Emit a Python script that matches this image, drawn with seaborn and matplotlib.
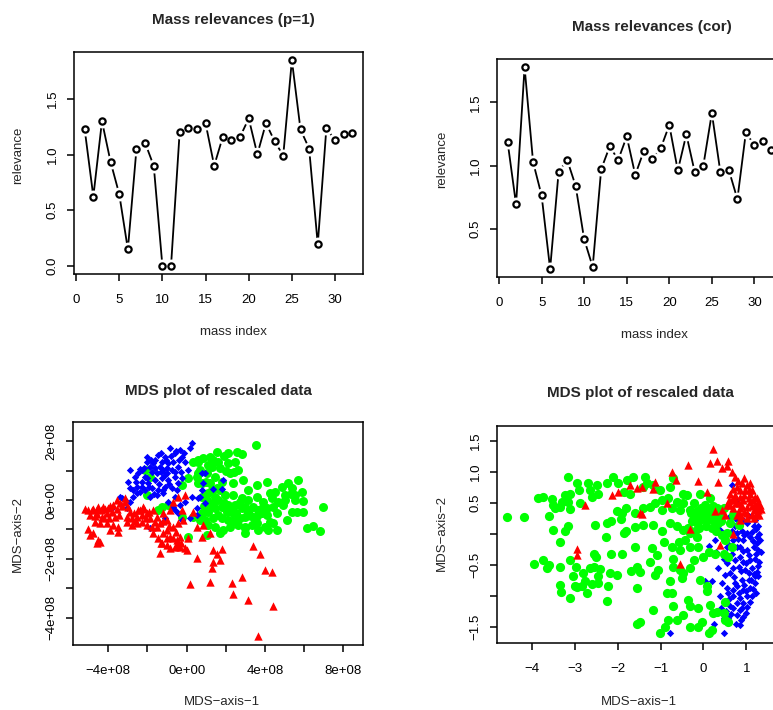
import numpy as np
import pandas as pd
import matplotlib
matplotlib.use("Agg")
import matplotlib.pyplot as plt
import seaborn as sns

# ------------------------------------------------------------
# data
# ------------------------------------------------------------
mass_index = list(range(1, 33))

rel_p1 = [1.226, 0.623, 1.300, 0.934, 0.645, 0.148, 1.054, 1.105, 0.898, 0.0,
          0.0, 1.202, 1.238, 1.229, 1.283, 0.900, 1.160, 1.127, 1.160, 1.325,
          1.003, 1.283, 1.120, 0.991, 1.849, 1.226, 1.054, 0.193, 1.241, 1.127,
          1.184, 1.193]

rel_cor = [1.191, 0.693, 1.780, 1.028, 0.764, 0.183, 0.951, 1.046, 0.840, 0.418,
           0.199, 0.972, 1.152, 1.046, 1.231, 0.927, 1.115, 1.051, 1.139, 1.321,
           0.962, 1.247, 0.946, 1.001, 1.416, 0.949, 0.964, 0.735, 1.265, 1.160,
           1.199, 1.120]

# MDS of rescaled data, panel 1 (units of 1e8)
mds1_red = [(-5.19, -0.32), (-5.02, -0.34), (-4.76, -0.32), (-4.51, -0.25), (-4.25, -0.23),
            (-4.0, -0.28), (-3.74, -0.17), (-3.57, 0.0), (-3.40, -0.11), (-3.15, -0.06),
            (-4.93, -0.51), (-4.59, -0.48), (-4.34, -0.57), (-4.08, -0.45), (-3.83, -0.40),
            (-3.66, -0.57), (-4.42, -0.79), (-4.68, -0.74), (-4.08, -0.79), (-3.74, -0.85),
            (-3.49, -0.91), (-5.02, -1.0), (-4.76, -1.13), (-4.51, -1.36), (-4.59, -1.47),
            (-4.42, -1.42), (-4.93, -1.19), (-3.49, -1.08), (-3.91, -1.02), (-3.15, 0.06),
            (-2.98, -0.23), (-3.06, -0.57), (-2.81, -0.62), (-2.55, -0.57), (-2.38, -0.34),
            (-2.21, -0.23), (-2.04, -0.45), (-1.87, -0.62), (-1.70, -0.34), (-1.53, -0.57),
            (-1.36, -0.79), (-1.19, -0.45), (-1.02, -0.68), (-3.06, -0.74), (-2.81, -0.85),
            (-2.55, -0.79), (-2.30, -0.74), (-2.04, -0.85), (-1.79, -0.91), (-1.53, -0.91),
            (-1.19, -1.13), (-1.02, -1.02), (-0.85, -1.25), (-0.68, -1.30), (-0.51, -1.36),
            (-0.34, -1.25), (-1.70, -1.13), (-1.45, -1.30), (-1.28, -1.47), (-1.02, -1.53),
            (-0.85, -1.64), (-0.60, -1.59), (-0.34, -1.59), (-0.09, -1.64), (0.0, -1.70),
            (-1.36, -1.81), (-0.68, -0.91), (-0.43, -0.79), (-0.17, -0.68), (-0.26, -0.34),
            (-0.09, 0.17), (-0.68, -0.06), (-0.43, 0.11), (-0.85, -0.34), (0.34, -0.40),
            (0.51, -0.91), (0.77, -1.25), (1.19, -1.13), (0.09, -1.30), (0.85, -0.85),
            (-1.33, -1.47), (-0.51, -1.53), (0.51, -1.98), (1.36, -1.70), (1.79, -1.68),
            (1.53, -1.84), (1.36, -2.10), (1.70, -2.04), (1.28, -2.32), (0.17, -2.86),
            (1.19, -2.78), (2.30, -2.81), (2.81, -2.63), (2.38, -3.20), (3.15, -3.40),
            (3.40, -1.55), (3.74, -1.84), (4.0, -2.38), (4.37, -2.44), (4.39, -3.59),
            (3.62, -4.63), (-4.85, -0.35), (-4.60, -0.30), (-4.35, -0.35), (-4.15, -0.30),
            (-3.90, -0.20), (-3.55, -0.30), (-3.30, -0.20), (-4.70, -0.55), (-4.20, -0.60),
            (-3.95, -0.62), (-3.45, -0.50), (-2.90, -0.40), (-2.70, -0.45), (-2.50, -0.35),
            (-2.30, -0.50), (-2.10, -0.62), (-1.90, -0.40), (-1.60, -0.75), (-1.20, -0.70),
            (-0.90, -0.90), (-0.55, -1.10), (-1.00, -1.30), (-0.30, -1.45), (-2.65, -0.70),
            (-2.20, -0.30)]

mds1_blue = [(0.26, 1.93), (0.17, 1.76), (-0.34, 1.70), (-0.85, 1.76), (-0.60, 1.59),
             (-1.11, 1.47), (-1.45, 1.53), (-1.62, 1.36), (-2.04, 1.30), (-1.87, 1.13),
             (-1.28, 1.30), (-0.94, 1.25), (-0.68, 1.30), (-0.26, 1.47), (-0.09, 1.30),
             (-0.43, 1.13), (-0.77, 1.02), (-1.19, 1.02), (-1.53, 0.91), (-1.79, 0.96),
             (-2.13, 0.79), (-2.47, 0.91), (-2.64, 0.79), (-2.89, 1.02), (-2.30, 0.62),
             (-1.96, 0.57), (-1.62, 0.68), (-1.28, 0.74), (-0.94, 0.68), (-0.60, 0.79),
             (-0.43, 0.57), (-0.77, 0.40), (-1.11, 0.45), (-1.45, 0.34), (-1.79, 0.40),
             (-2.13, 0.34), (-2.38, 0.28), (-2.72, 0.34), (-2.98, 0.62), (-2.89, 0.40),
             (-3.32, 0.06), (-3.15, 0.0), (-2.89, -0.06), (-2.72, 0.11), (-2.55, 0.23),
             (-3.40, 0.11), (-3.83, -0.28), (-3.06, -0.28), (-1.87, 0.11), (-1.53, 0.17),
             (-1.19, 0.23), (-0.60, 0.11), (-1.11, -0.62), (-0.60, -0.34), (-0.43, -0.45),
             (-0.26, -0.68), (0.17, -0.62), (-0.09, -0.06), (0.26, 0.11), (0.60, 0.06),
             (-1.87, -0.96), (-1.28, -0.79), (-0.68, -0.23), (-0.94, -0.06), (-0.34, -0.17),
             (-2.30, 1.02), (-1.36, 1.13), (-1.70, 1.25), (-1.02, 0.91), (-0.60, 0.96),
             (-0.26, 0.74), (0.09, 1.02), (0.77, 0.91), (0.94, 0.93), (0.85, 0.57),
             (0.77, 0.34), (1.36, 0.36), (1.87, 0.68), (1.79, 0.36), (0.94, -0.11),
             (0.51, -0.28), (0.51, -0.51), (0.68, 0.11), (-2.00, 1.45), (-1.30, 1.60),
             (-0.80, 1.50), (-0.40, 1.35), (-1.00, 1.10), (-1.60, 1.10), (-2.20, 1.10),
             (-2.60, 0.60), (-2.00, 0.75), (-1.40, 0.55), (-0.90, 0.55), (-0.50, 0.35),
             (-1.20, 0.35), (-1.65, 0.20), (-2.30, 0.45), (-2.55, 0.45), (-1.10, 0.85),
             (-0.30, 0.95), (-1.90, 0.45), (-1.30, 0.95), (-0.15, 1.60), (-0.55, 1.65),
             (-1.05, 1.35), (-1.80, 1.35), (-2.40, 1.05)]

mds1_green = [(3.52, 1.87), (2.55, 1.64), (2.81, 1.56), (2.13, 1.59), (1.53, 1.64),
              (1.19, 1.47), (0.85, 1.42), (0.60, 1.30), (1.62, 1.30), (2.13, 1.25),
              (2.47, 1.30), (2.64, 1.02), (2.21, 0.91), (1.70, 1.08), (1.28, 1.13),
              (1.02, 0.91), (0.60, 0.91), (1.45, 0.79), (1.19, 0.57), (1.53, 0.40),
              (0.60, 0.57), (1.11, 0.23), (1.45, 0.11), (1.96, 0.17), (2.38, 0.17),
              (2.81, 0.06), (3.15, 0.0), (3.57, 0.11), (3.91, -0.06), (4.25, 0.23),
              (4.51, 0.28), (4.85, 0.45), (5.19, 0.57), (5.70, 0.68), (5.36, 0.40),
              (5.02, 0.17), (5.53, 0.17), (5.87, 0.28), (5.95, -0.02), (5.53, 0.0),
              (4.93, -0.17), (4.42, -0.23), (4.08, -0.28), (3.66, -0.34), (3.15, -0.40),
              (2.81, -0.28), (2.47, -0.17), (2.13, -0.17), (1.79, -0.23), (1.45, -0.28),
              (1.11, -0.40), (0.77, -0.45), (0.94, -0.68), (1.36, -0.62), (1.79, -0.62),
              (2.13, -0.68), (2.55, -0.68), (2.98, -0.57), (3.49, -0.68), (3.83, -0.45),
              (4.25, -0.74), (4.0, -0.91), (3.66, -1.02), (3.32, -0.85), (2.98, -0.91),
              (2.64, -0.85), (2.21, -0.91), (1.87, -1.02), (1.45, -0.91), (1.11, -0.85),
              (1.70, -1.13), (2.98, -1.13), (4.17, -1.02), (4.59, -1.02), (5.10, -0.68),
              (5.36, -0.40), (5.61, -0.40), (5.95, -0.40), (6.12, -0.96), (6.46, -0.88),
              (6.80, -1.04), (6.97, -0.23), (2.89, 0.68), (3.57, 0.51), (4.08, 0.62),
              (3.15, 0.34), (4.34, 0.06), (4.68, -0.06), (0.34, 1.30), (0.60, 1.36),
              (0.51, 0.79), (0.77, 0.57), (0.09, 0.74), (-0.26, 0.51), (-2.13, 1.02),
              (-2.04, 0.17), (-1.28, -0.23), (-1.45, -0.34), (-0.94, -0.17), (0.09, -1.25),
              (0.34, -0.57), (0.68, -0.68), (-1.87, 0.79), (-0.26, -0.57), (1.02, -1.19),
              (1.36, -0.11), (2.38, -0.45), (3.40, -0.23), (2.04, -0.40), (2.72, -0.06),
              (1.02, 0.0), (1.70, 0.34), (2.38, 0.57), (0.68, 1.02), (1.36, 1.36),
              (1.00, 0.60), (1.30, 0.35), (1.60, 0.00), (1.90, -0.10), (2.20, -0.30),
              (2.50, -0.45), (2.70, -0.60), (3.00, -0.25), (3.30, -0.55), (3.60, -0.55),
              (3.90, -0.25), (4.10, -0.50), (4.60, -0.45), (5.00, 0.00), (5.30, 0.20),
              (1.20, -0.20), (0.90, -0.20), (0.80, 0.10), (1.80, 0.60), (2.00, 1.00),
              (1.10, 1.20), (1.90, 1.50), (2.40, 0.95), (3.00, -0.95), (2.30, -0.70),
              (1.60, -0.50), (3.60, -0.80), (4.40, -0.80)]

# MDS of rescaled data, panel 2
mds2_blue = [(0.66, 0.79), (0.78, 0.55), (0.62, 0.28), (0.31, 0.09), (0.27, -0.10),
             (0.39, 0.06), (0.12, -0.20), (0.54, -0.21), (0.66, -0.32), (0.78, -0.21),
             (0.47, -0.40), (0.54, -0.48), (0.19, -0.77), (0.04, -0.77), (0.43, -0.80),
             (0.50, -0.67), (0.62, -0.64), (0.74, -0.80), (0.39, -1.01), (0.58, -0.96),
             (0.50, -1.12), (0.62, -1.17), (0.47, -1.36), (0.58, -1.36), (0.85, -1.47),
             (-0.78, -1.61), (0.47, -1.61), (0.85, 0.12), (1.01, 0.17), (1.17, 0.12),
             (1.24, -0.05), (1.09, -0.05), (0.93, -0.10), (0.85, -0.21), (1.01, -0.26),
             (1.17, -0.21), (1.28, -0.26), (1.20, -0.40), (1.09, -0.42), (0.93, -0.45),
             (0.82, -0.53), (0.97, -0.58), (1.13, -0.56), (1.24, -0.61), (1.20, -0.69),
             (1.05, -0.75), (0.89, -0.75), (0.78, -0.85), (0.93, -0.91), (1.09, -0.88),
             (1.20, -0.80), (1.01, -1.01), (0.85, -1.04), (0.78, -1.12), (0.93, -1.12),
             (1.13, -1.01), (0.85, -1.23), (0.78, -1.31), (0.70, -1.01), (1.01, 0.01),
             (0.78, 0.01), (0.74, -0.42), (0.85, -0.37), (1.28, 0.12), (1.32, -0.10),
             (0.70, -0.10), (0.93, 0.22), (1.05, 0.28), (1.20, 0.22), (0.78, 0.22),
             (0.70, -0.91), (1.28, -0.69), (0.66, 0.05), (0.74, 0.12), (0.90, 0.05),
             (1.12, 0.03), (1.22, 0.08), (0.95, -0.02), (0.80, -0.08), (1.15, -0.12),
             (1.25, -0.15), (0.92, -0.28), (1.05, -0.35), (1.22, -0.33), (1.30, -0.45),
             (0.98, -0.48), (0.88, -0.60), (1.05, -0.63), (1.18, -0.65), (0.72, -0.70),
             (0.95, -0.82), (1.15, -0.90), (1.00, -0.93), (0.82, -0.95), (1.22, -0.95),
             (0.90, -1.20), (0.98, -1.28), (0.70, -1.20), (0.65, -1.30), (0.75, -1.45),
             (0.92, -1.35), (1.02, -1.18), (0.60, -1.05), (0.55, -0.88), (0.68, -0.55),
             (0.60, -0.18), (1.10, -0.75), (1.27, -0.52), (1.33, -0.30), (1.30, 0.00),
             (0.88, -1.40), (1.08, -1.10), (0.35, -0.55), (0.30, -0.30), (0.42, -1.20),
             (0.25, -1.45), (0.52, -1.25)]

mds2_green = [(-4.57, 0.27), (-4.17, 0.27), (-3.86, 0.57), (-3.74, 0.59), (-3.53, 0.56),
              (-3.50, 0.47), (-3.46, 0.41), (-3.34, 0.44), (-3.30, 0.52), (-3.22, 0.63),
              (-3.11, 0.65), (-3.15, 0.52), (-3.12, 0.40), (-2.95, 0.82), (-2.91, 0.71),
              (-2.87, 0.49), (-2.68, 0.82), (-2.64, 0.71), (-2.60, 0.60), (-2.49, 0.79),
              (-2.45, 0.65), (-3.15, 0.92), (-2.25, 0.82), (-2.10, 0.91), (-1.98, 0.82),
              (-1.79, 0.87), (-1.63, 0.92), (-1.86, 0.68), (-1.71, 0.65), (-3.61, 0.29),
              (-3.51, 0.06), (-3.22, 0.04), (-3.15, 0.12), (-3.34, -0.13), (-2.52, 0.14),
              (-2.25, 0.17), (-2.15, 0.21), (-2.27, -0.06), (-2.02, 0.37), (-1.90, 0.33),
              (-1.80, 0.42), (-1.93, 0.24), (-1.86, 0.02), (-1.80, 0.05), (-1.59, 0.33),
              (-1.59, 0.11), (-1.59, -0.21), (-3.95, -0.49), (-3.74, -0.42), (-3.65, -0.56),
              (-3.59, -0.50), (-3.34, -0.53), (-3.11, -0.43), (-2.97, -0.53), (-3.03, -0.69),
              (-2.80, -0.64), (-2.64, -0.56), (-2.56, -0.53), (-2.54, -0.32), (-2.50, -0.37),
              (-2.41, -0.57), (-2.46, -0.69), (-2.45, -0.79), (-2.60, -0.81), (-2.76, -0.77),
              (-2.83, -0.85), (-2.94, -0.86), (-2.99, -0.84), (-3.34, -0.82), (-3.32, -0.94),
              (-3.12, -1.03), (-2.72, -0.95), (-2.23, -0.85), (-2.24, -1.08), (-2.15, -0.33),
              (-1.90, -0.32), (-2.17, -0.64), (-2.02, -0.67), (-1.69, -0.60), (-1.55, -0.53),
              (-1.54, -0.88), (-1.55, -1.45), (-1.36, 0.92), (-1.40, 0.76), (-1.32, 0.82),
              (-1.17, 0.79), (-1.01, 0.71), (-0.78, 0.76), (-0.70, 0.90), (-0.47, 0.65),
              (-0.39, 0.63), (-0.08, 0.65), (0.16, 0.57), (0.04, 0.47), (-0.23, 0.49),
              (-0.47, 0.49), (-0.62, 0.52), (-0.82, 0.57), (-0.97, 0.55), (-1.13, 0.49),
              (-1.24, 0.44), (-1.40, 0.41), (-0.97, 0.39), (-0.74, 0.41), (-0.54, 0.39),
              (-0.31, 0.39), (-0.16, 0.36), (0.0, 0.36), (0.16, 0.36), (0.31, 0.41),
              (0.47, 0.41), (-0.23, 0.28), (-0.08, 0.22), (0.08, 0.22), (0.23, 0.22),
              (-0.16, 0.17), (-0.27, 0.20), (-0.04, 0.30), (0.12, 0.30), (0.27, 0.30),
              (0.39, 0.30), (-1.40, 0.14), (-1.17, 0.14), (-0.97, 0.04), (-0.78, 0.17),
              (-0.62, 0.12), (-0.47, 0.06), (-0.31, 0.01), (-0.16, -0.05), (-0.43, -0.10),
              (-0.58, -0.13), (-0.74, -0.21), (-0.93, -0.13), (-1.20, -0.23), (-1.24, -0.45),
              (-1.09, -0.34), (-0.70, -0.40), (-0.54, -0.26), (-0.31, -0.21), (-0.12, -0.21),
              (0.12, -0.29), (0.27, -0.32), (0.47, -0.32), (0.58, -0.37), (0.50, -0.10),
              (0.66, -0.21), (0.43, -0.02), (0.54, 0.01), (0.62, 0.17), (0.70, 0.30),
              (0.82, 0.14), (0.0, -0.37), (-0.23, -0.42), (-0.31, -0.56), (-0.47, -0.64),
              (-0.54, -0.58), (-0.70, -0.53), (-1.05, -0.58), (-1.13, -0.67), (-1.48, -0.61),
              (-0.78, -0.77), (-0.08, -0.75), (0.08, -0.85), (0.08, -0.93), (-0.50, -0.72),
              (-0.74, -0.96), (-0.85, -0.96), (-0.35, -1.07), (-0.31, -1.17), (-0.12, -1.20),
              (0.16, -1.15), (0.31, -1.26), (0.50, -1.10), (0.23, -1.28), (-0.47, -1.31),
              (-0.62, -1.39), (-0.82, -1.39), (-1.17, -1.23), (-0.70, -1.17), (-1.01, -1.61),
              (-0.89, -1.50), (-0.31, -1.50), (-0.12, -1.50), (0.19, -1.55), (0.12, -1.61),
              (-0.04, -1.42), (0.47, -1.28), (0.58, -1.42), (0.50, -1.39), (-1.48, -1.42),
              (-0.10, 0.10), (0.05, 0.12), (0.20, 0.10), (0.35, 0.18), (-0.30, 0.33),
              (-0.05, 0.42), (0.22, 0.45), (0.40, 0.20), (-0.20, 0.05), (0.10, 0.40),
              (0.30, 0.05), (-0.35, 0.10)]

mds2_red = [(-2.94, -0.25), (-2.94, -0.34), (-2.76, 0.47), (-2.14, 0.63), (-1.98, 0.67),
            (-1.71, 0.79), (-1.55, 0.74), (-1.48, 0.33), (0.22, 1.37), (-0.37, 1.11),
            (0.16, 1.15), (0.31, 1.18), (0.43, 1.06), (0.58, 1.18), (0.54, 1.09),
            (0.66, 0.99), (0.74, 0.92), (-0.74, 1.0), (-1.13, 0.84), (-1.18, 0.72),
            (-0.64, 0.87), (-0.13, 0.85), (0.35, 0.84), (0.08, 0.67), (-1.44, 0.76),
            (-0.85, 0.49), (-1.44, 0.32), (-0.31, 0.07), (0.39, -0.18), (0.70, 0.0),
            (-0.54, -0.49), (0.62, 0.47), (0.43, 0.39), (0.50, 0.30), (0.85, 0.22),
            (1.01, 0.25), (1.17, 0.25), (0.82, 0.49), (0.27, 0.36), (0.78, 0.76),
            (0.89, 0.82), (0.97, 0.71), (1.09, 0.65), (1.20, 0.60), (1.28, 0.52),
            (1.24, 0.44), (1.17, 0.39), (1.01, 0.44), (0.85, 0.60), (0.74, 0.63),
            (0.66, 0.55), (0.93, 0.55), (1.09, 0.52), (1.20, 0.47), (0.85, 0.71),
            (1.01, 0.79), (1.13, 0.71), (0.62, 0.65), (0.70, 0.41), (0.85, 0.41),
            (1.01, 0.33), (1.13, 0.30), (1.28, 0.39), (1.32, 0.47), (0.82, 0.33),
            (0.54, 0.47), (0.75, 0.50), (0.90, 0.45), (0.95, 0.62), (1.05, 0.58),
            (1.15, 0.55), (1.25, 0.58), (1.30, 0.30), (1.22, 0.30), (0.95, 0.35),
            (0.78, 0.30), (0.68, 0.72), (0.80, 0.85), (0.95, 0.90), (1.08, 0.82),
            (0.60, 0.55), (1.35, 0.40), (1.12, 0.45), (0.88, 0.28), (1.05, 0.70),
            (0.72, 0.58)]

# axis ticks and labels
rel_xticks = [0, 5, 10, 15, 20, 25, 30]
p1_yticks = [0.0, 0.5, 1.0, 1.5]
p1_ylabels = ["0.0", "0.5", "1.0", "1.5"]
cor_yticks = [0.5, 1.0, 1.5]
cor_ylabels = ["0.5", "1.0", "1.5"]
mds1_xticks = [-4e8, -2e8, 0, 2e8, 4e8, 6e8, 8e8]
mds1_xlabels = ["\u22124e+08", "", "0e+00", "", "4e+08", "", "8e+08"]
mds1_yticks = [-4e8, -3e8, -2e8, -1e8, 0, 1e8, 2e8]
mds1_ylabels = ["\u22124e+08", "", "\u22122e+08", "", "0e+00", "", "2e+08"]
mds2_xticks = [-4, -3, -2, -1, 0, 1]
mds2_xlabels = ["\u22124", "\u22123", "\u22122", "\u22121", "0", "1"]
mds2_yticks = [-1.5, -1.0, -0.5, 0.0, 0.5, 1.0, 1.5]
mds2_ylabels = ["\u22121.5", "", "\u22120.5", "", "0.5", "1.0", "1.5"]

# ------------------------------------------------------------
# figure
# ------------------------------------------------------------
sns.set_style("white")
plt.rcParams["font.family"] = ["Liberation Sans", "DejaVu Sans"]

W, H = 773, 710
fig = plt.figure(figsize=(W / 100, H / 100), dpi=100)


def px_box(x0, y0, x1, y1):
    return [x0 / W, 1 - y1 / H, (x1 - x0) / W, (y1 - y0) / H]


def px_text(x, y, s, **kw):
    fig.text(x / W, 1 - y / H, s, ha="center", va="center", **kw)


def r_style(ax, xticks, xlabels, yticks, ylabels):
    ax.set_xticks(xticks)
    ax.set_xticklabels(xlabels)
    ax.set_yticks(yticks)
    ax.set_yticklabels(ylabels)
    ax.set_xlabel("")
    ax.set_ylabel("")
    for sp in ax.spines.values():
        sp.set_visible(True)
        sp.set_color("black")
        sp.set_linewidth(1.1)
    ax.tick_params(direction="out", length=5, width=1.1,
                   labelsize=9.5, colors="black", bottom=True, left=True)
    ax.tick_params(axis="x", pad=9.5)
    ax.tick_params(axis="y", pad=6)
    for lab in ax.get_yticklabels():
        lab.set_rotation(90)
        lab.set_va("center")


def relevance_panel(ax, vals, ylim, yticks, ylabels):
    df = pd.DataFrame({"mass": mass_index, "relevance": vals})
    sns.lineplot(data=df, x="mass", y="relevance", color="black",
                 linewidth=1.3, errorbar=None, ax=ax)
    # white disks give the R type="b" gaps around the points
    sns.lineplot(data=df, x="mass", y="relevance", color="white", linestyle="",
                 marker="o", markersize=10, markeredgewidth=0, errorbar=None, ax=ax)
    sns.lineplot(data=df, x="mass", y="relevance", color="black", linestyle="",
                 marker="o", markersize=4.5, markerfacecolor="white",
                 markeredgecolor="black", markeredgewidth=1.6, errorbar=None, ax=ax)
    ax.set_xlim(-0.24, 33.24)
    ax.set_ylim(*ylim)
    r_style(ax, rel_xticks, [str(t) for t in rel_xticks], yticks, ylabels)


def mds_panel(ax, layers, scale, xlim, ylim):
    for pts, color, marker, size in layers:
        xs = np.array([p[0] for p in pts]) * scale
        ys = np.array([p[1] for p in pts]) * scale
        sns.scatterplot(x=xs, y=ys, color=color, marker=marker, s=size,
                        linewidth=0, ax=ax)
    ax.set_xlim(*xlim)
    ax.set_ylim(*ylim)


RED, GREEN, BLUE = "#FF0000", "#00FF00", "#0000FF"

# top left
ax1 = fig.add_axes(px_box(74, 52, 363, 274))
relevance_panel(ax1, rel_p1, (-0.074, 1.923), p1_yticks, p1_ylabels)
px_text(233, 20, "Mass relevances (p=1)", fontsize=11, fontweight="bold")
px_text(233, 332, "mass index", fontsize=9.5)
px_text(18, 155, "relevance", fontsize=9.5, rotation=90)

# top right (runs off the right edge)
ax2 = fig.add_axes(px_box(497, 59, 782, 277))
relevance_panel(ax2, rel_cor, (0.119, 1.844), cor_yticks, cor_ylabels)
px_text(652, 27, "Mass relevances (cor)", fontsize=11, fontweight="bold")
px_text(654, 335, "mass index", fontsize=9.5)
px_text(442, 159, "relevance", fontsize=9.5, rotation=90)

# bottom left
ax3 = fig.add_axes(px_box(73, 422, 363, 645))
mds_panel(ax3, [(mds1_green, GREEN, "o", 42), (mds1_blue, BLUE, "D", 14),
                (mds1_red, RED, "^", 36)],
          1e8, (-5.8e8, 9.0e8), (-4.93e8, 2.65e8))
r_style(ax3, mds1_xticks, mds1_xlabels, mds1_yticks, mds1_ylabels)
px_text(218, 391, "MDS plot of rescaled data", fontsize=11, fontweight="bold")
px_text(222, 702, "MDS\u2212axis\u22121", fontsize=9.5)
px_text(18, 534, "MDS\u2212axis\u22122", fontsize=9.5, rotation=90)

# bottom right (runs off the right edge)
ax4 = fig.add_axes(px_box(497, 426, 782, 643))
mds_panel(ax4, [(mds2_blue, BLUE, "D", 14), (mds2_green, GREEN, "o", 44),
                (mds2_red, RED, "^", 36)],
          1.0, (-4.81, 1.83), (-1.764, 1.74))
r_style(ax4, mds2_xticks, mds2_xlabels, mds2_yticks, mds2_ylabels)
px_text(640, 393, "MDS plot of rescaled data", fontsize=11, fontweight="bold")
px_text(639, 702, "MDS\u2212axis\u22121", fontsize=9.5)
px_text(442, 533, "MDS\u2212axis\u22122", fontsize=9.5, rotation=90)

fig.savefig("out.png", dpi=100)
